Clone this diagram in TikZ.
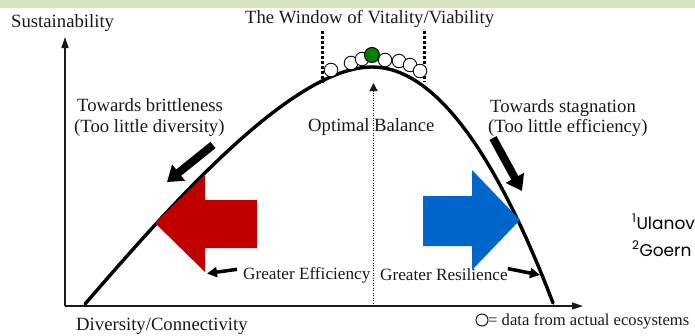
\documentclass[tikz,border=0pt]{standalone}
\usepackage{fontspec}
\setmainfont{Liberation Serif}
\newfontfamily\slidefont{Poppins}
\usetikzlibrary{arrows.meta}
\definecolor{bandgreen}{RGB}{215,228,189}
\definecolor{bigred}{RGB}{192,0,0}
\definecolor{bigblue}{RGB}{0,102,204}
\definecolor{ink}{RGB}{25,25,25}
\definecolor{bestgreen}{RGB}{0,128,0}
\tikzset{
  lbl/.style={font=\fontsize{18.7}{20}\selectfont, text=ink, inner sep=0pt, anchor=base west},
  lblsmall/.style={lbl, font=\fontsize{17.2}{19}\selectfont},
  refs/.style={font=\slidefont\fontsize{17}{19}\selectfont, text=black, inner sep=0pt, anchor=base west},
  axisline/.style={draw=ink, line width=1.4pt, -{Triangle[length=11pt,width=7pt]}},
  curveline/.style={draw=black, line width=3.4pt, line cap=round},
  fatarrow/.style={draw=black, line width=8pt, -{Triangle[length=15pt,width=20pt]}},
  thinarrow/.style={draw=black, line width=3.5pt, -{Triangle[length=10pt,width=10pt]}},
  windowline/.style={draw=black, line width=3pt, dash pattern=on 2.6pt off 2.4pt},
  optline/.style={draw=ink, line width=1pt, dash pattern=on 1pt off 1.5pt, -{Triangle[length=8pt,width=8pt]}},
  datapt/.style={circle, draw=ink, fill=white, line width=1pt, minimum size=13.5pt, inner sep=0pt},
  bestpt/.style={datapt, draw=black, fill=bestgreen, minimum size=15pt},
}
\begin{document}
\begin{tikzpicture}[x=1pt,y=-1pt]
\useasboundingbox (0,0) rectangle (695,335);
\fill[bandgreen] (0,0) rectangle (695,8);

% axes
\coordinate (O) at (65,306);
\coordinate (Ytop) at (65,37);
\coordinate (Xend) at (583,306);
\draw[axisline] (O) -- (Ytop);
\draw[axisline] (O) -- (Xend);

% optimal balance line
\coordinate (optbase) at (373.5,306);
\coordinate (opttop) at (373.5,83);
\draw[optline] (optbase) -- (opttop);

% window lines
\coordinate (wl1) at (322,31); \coordinate (wl2) at (322,83);
\coordinate (wr1) at (424,31); \coordinate (wr2) at (424,82);
\draw[windowline] (wl1) -- (wl2);
\draw[windowline] (wr1) -- (wr2);

% curve
\coordinate (cstart) at (85,304);
\coordinate (cpeak) at (372,67);
\coordinate (cend) at (553,303);
\draw[curveline] (cstart) .. controls (165,212) and (290,67) .. (cpeak)
  .. controls (432,67) and (493,146) .. (cend);

% big arrows
\fill[bigred] (155,223) -- (205,175) -- (205,200) -- (257,200) -- (257,248) -- (205,248) -- (205,272) -- cycle;
\fill[bigblue] (423,196) -- (472,196) -- (472,170) -- (520,220) -- (472,270) -- (472,246) -- (423,246) -- cycle;

% black trend arrows
\coordinate (bt1) at (213,145); \coordinate (bt2) at (167,182);
\coordinate (st1) at (493,138); \coordinate (st2) at (522,191);
\draw[fatarrow] (bt1) -- (bt2);
\draw[fatarrow] (st1) -- (st2);

% data points
\node[datapt] (d1) at (331,70) {};
\node[datapt] (d2) at (351,63) {};
\node[datapt] (d3) at (362,59) {};
\node[datapt] (d4) at (385,60) {};
\node[datapt] (d5) at (399,61) {};
\node[datapt] (d6) at (410,65) {};
\node[datapt] (d7) at (420,71) {};
\node[bestpt] (best) at (372,55) {};

% labels
\node[lbl] (sus) at (11,27) {Sustainability};
\node[lbl] (win) at (245,23) {The Window of Vitality/Viability};
\node[lbl] (brit1) at (77,111) {Towards brittleness};
\node[lbl] (brit2) at (74,132) {(Too little diversity)};
\node[lbl] (stag1) at (490,112) {Towards stagnation};
\node[lbl] (stag2) at (488,132) {(Too little efficiency)};
\node[lbl] (opt) at (308,131) {Optimal Balance};
\node[lbl] (div) at (76,330) {Diversity/Connectivity};
\node[lblsmall] (eff) at (243,279) {Greater Efficiency};
\node[lblsmall] (res) at (380,280) {Greater Resilience};
\coordinate (efftip) at (207,273.5);
\coordinate (restip) at (540,275);
\draw[thinarrow] ([xshift=-6pt,yshift=5.5pt]eff.west) -- (efftip);
\draw[thinarrow] ([xshift=0pt,yshift=5.5pt]res.east) -- (restip);

% legend
\node[datapt, minimum size=12pt] (leg) at (482,320) {};
\node[lblsmall, font=\fontsize{16.6}{19}\selectfont] (legtxt) at (488,325) {= data from actual ecosystems};

% references
\node[refs] (ref1) at (632,229) {\textsuperscript{1}Ulanov};
\node[refs] (ref2) at (632,256) {\textsuperscript{2}Goern};
\end{tikzpicture}
\end{document}
